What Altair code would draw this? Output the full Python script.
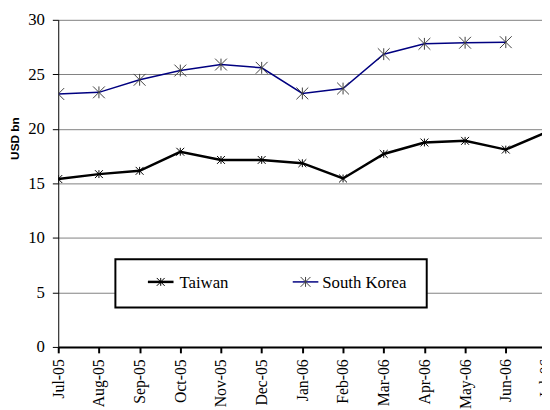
import json
import altair as alt
import pandas as pd

months = ["Jul-05", "Aug-05", "Sep-05", "Oct-05", "Nov-05", "Dec-05", "Jan-06",
          "Feb-06", "Mar-06", "Apr-06", "May-06", "Jun-06", "Jul-06"]
taiwan = [15.4, 15.85, 16.15, 17.9, 17.15, 17.15, 16.85, 15.45, 17.7, 18.75, 18.9, 18.1, 19.7]
korea = [23.2, 23.35, 24.5, 25.35, 25.9, 25.6, 23.25, 23.7, 26.85, 27.8, 27.9, 27.95, None]
series_names = ["Taiwan", "South Korea"]
y_ticks = [0, 5, 10, 15, 20, 25, 30]

rows = []
for i, m in enumerate(months):
    for name, vals in zip(series_names, [taiwan, korea]):
        if vals[i] is not None:
            rows.append({"idx": i, "month": m, "series": name, "value": vals[i]})
df = pd.DataFrame(rows)
last_df = pd.DataFrame({"idx": [len(months) - 1], "month": [months[-1]]})

STAR = "M-1,-1L1,1M1,-1L-1,1M0,-1L0,1"
SERIF = "Liberation Serif"

xscale = alt.Scale(domain=[0, 11.89], nice=False, zero=False)
yscale = alt.Scale(domain=[0, 30], nice=False, zero=True)
label_expr = json.dumps(months) + "[datum.value]"

x_enc = alt.X("idx:Q", scale=xscale,
              axis=alt.Axis(values=list(range(len(months))), labelExpr=label_expr,
                            labelAngle=270, labelFont=SERIF, labelFontSize=16,
                            labelColor="black", labelPadding=6, grid=False, title=None,
                            domainColor="black", domainWidth=2, tickColor="black",
                            tickWidth=2, tickSize=6, labelFlush=False, labelOverlap=False,
                            labelBound=False))
y_enc = alt.Y("value:Q", scale=yscale,
              axis=alt.Axis(values=y_ticks, grid=True, gridColor="#808080", gridWidth=1,
                            labelFont=SERIF, labelFontSize=17, labelColor="black",
                            labelPadding=8, domainColor="black", domainWidth=1,
                            tickColor="black", tickSize=6, title="USD bn",
                            titleFont="Liberation Sans", titleFontWeight="bold",
                            titleFontSize=12, titleColor="black", titleAngle=270,
                            titleX=-44, titleY=120, titleAlign="center",
                            titleBaseline="middle"))

base = alt.Chart(df)
tw = base.transform_filter(alt.datum.series == "Taiwan")
kr = base.transform_filter(alt.datum.series == "South Korea")

tw_line = tw.mark_line(color="black", strokeWidth=2.5, clip=True).encode(x=x_enc, y=y_enc)
kr_line = kr.mark_line(color="#000080", strokeWidth=1.5, clip=True).encode(x=x_enc, y=y_enc)
tw_pts = tw.mark_point(shape=STAR, size=64, filled=False, stroke="black", strokeWidth=1,
                       opacity=1, clip=True).encode(x=x_enc, y=y_enc)
kr_pts = kr.mark_point(shape=STAR, size=144, filled=False, stroke="#404040", strokeWidth=1,
                       opacity=1, clip=True).encode(x=x_enc, y=y_enc)

# label of the last month, which sits just past the plot's right edge
last_label = alt.Chart(last_df).mark_text(
    angle=270, align="right", baseline="middle", font=SERIF, fontSize=16, color="black"
).encode(x=alt.X("idx:Q", scale=xscale), y=alt.value(344), text="month:N")

one = alt.Data(values=[{"k": 1}])
leg_box = alt.Chart(one).mark_rect(fill="white", stroke="black", strokeWidth=2).encode(
    x=alt.value(58), x2=alt.value(374), y=alt.value(243), y2=alt.value(292))
leg_tw_rule = alt.Chart(one).mark_rule(color="black", strokeWidth=2.5).encode(
    x=alt.value(91), x2=alt.value(117), y=alt.value(266))
leg_tw_pt = alt.Chart(one).mark_point(shape=STAR, size=64, filled=False, stroke="black",
                                      strokeWidth=1, opacity=1).encode(
    x=alt.value(104), y=alt.value(266))
leg_tw_txt = alt.Chart(one).mark_text(align="left", baseline="middle", font=SERIF,
                                      fontSize=17, color="black").encode(
    x=alt.value(123), y=alt.value(267), text=alt.value(series_names[0]))
leg_kr_rule = alt.Chart(one).mark_rule(color="#000080", strokeWidth=1.5).encode(
    x=alt.value(238), x2=alt.value(264), y=alt.value(266))
leg_kr_pt = alt.Chart(one).mark_point(shape=STAR, size=100, filled=False, stroke="#404040",
                                      strokeWidth=1, opacity=1).encode(
    x=alt.value(251), y=alt.value(266))
leg_kr_txt = alt.Chart(one).mark_text(align="left", baseline="middle", font=SERIF,
                                      fontSize=17, color="black").encode(
    x=alt.value(268), y=alt.value(267), text=alt.value(series_names[1]))

chart = alt.layer(
    tw_line, kr_line, tw_pts, kr_pts, last_label,
    leg_box, leg_tw_rule, leg_tw_pt, leg_tw_txt, leg_kr_rule, leg_kr_pt, leg_kr_txt
).properties(
    width=491, height=332,
    autosize=alt.AutoSizeParams(type="none"),
    padding={"left": 51, "top": 9, "right": 0, "bottom": 61},
    background="white",
).configure_view(stroke=None)

chart.save("out.html", embed_options={"renderer": "svg", "actions": False})
